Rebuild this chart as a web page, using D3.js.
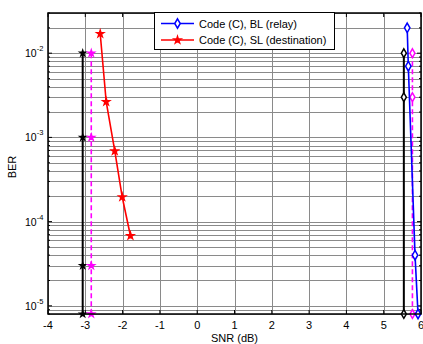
<!DOCTYPE html>
<html>
<head>
<meta charset="utf-8">
<script src="https://cdn.jsdelivr.net/npm/d3@7"></script>
<style>
  body { margin: 0; background: #fff; }
  svg { display: block; font-family: "Liberation Sans", Arial, sans-serif; }
</style>
</head>
<body>
<svg width="423" height="344"></svg>
<script>
// series
var blSnr = [5.63, 5.66, 5.84, 5.92];
var blBer = [2e-2, 7e-3, 4e-5, 8e-6];
var slSnr = [-2.6, -2.44, -2.21, -2.01, -1.79];
var slBer = [1.7e-2, 2.65e-3, 6.9e-4, 1.96e-4, 6.8e-5];
var blackLeftSnr = [-3.07, -3.07, -3.07, -3.07];
var blackLeftBer = [1e-2, 1e-3, 3e-5, 8e-6];
var magLeftSnr = [-2.84, -2.84, -2.84, -2.84];
var magLeftBer = [1e-2, 1e-3, 3e-5, 8e-6];
var blackRightSnr = [5.54, 5.54, 5.54];
var blackRightBer = [1e-2, 3e-3, 8e-6];
var magRightSnr = [5.77, 5.77, 5.77];
var magRightBer = [1e-2, 3e-3, 8e-6];

var xTicks = [-4, -3, -2, -1, 0, 1, 2, 3, 4, 5, 6];
var yDecades = [-5, -4, -3, -2];
var legendLabels = ["Code (C), BL (relay)", "Code (C), SL (destination)"];

var svg = d3.select("svg");
var pL = 48, pR = 421, pT = 13, pB = 314;

var x = d3.scaleLinear().domain([-4, 6]).range([pL, pR]);
var y = d3.scaleLog().domain([8e-6, 3e-2]).range([pB, pT]);

// minor log grid values
var minorVals = [];
[-6, -5, -4, -3, -2].forEach(function(e) {
    for (var m = 1; m <= 9; m++) {
        var v = m * Math.pow(10, e);
        if (v >= 8e-6 && v <= 3e-2) minorVals.push(v);
    }
});

var grid = svg.append("g");
grid.selectAll("line.h")
    .data(minorVals)
    .enter()
    .append("line")
    .attr("x1", pL).attr("x2", pR)
    .attr("y1", function(d) { return Math.round(y(d)) + 0.5; })
    .attr("y2", function(d) { return Math.round(y(d)) + 0.5; })
    .attr("stroke", "#8a8a8a")
    .attr("stroke-width", 1);

grid.selectAll("line.v")
    .data(xTicks)
    .enter()
    .append("line")
    .attr("x1", function(d) { return Math.round(x(d)) + 0.5; })
    .attr("x2", function(d) { return Math.round(x(d)) + 0.5; })
    .attr("y1", pT).attr("y2", pB)
    .attr("stroke", "#8a8a8a")
    .attr("stroke-width", 1);

// small inward ticks on all four sides
var ticks = svg.append("g").attr("stroke", "#000");
xTicks.forEach(function(d) {
    ticks.append("line").attr("x1", x(d)).attr("x2", x(d)).attr("y1", pB).attr("y2", pB - 4);
    ticks.append("line").attr("x1", x(d)).attr("x2", x(d)).attr("y1", pT).attr("y2", pT + 4);
});
minorVals.forEach(function(d) {
    var len = Math.abs(Math.log10(d) - Math.round(Math.log10(d))) < 1e-9 ? 4 : 2;
    ticks.append("line").attr("x1", pL).attr("x2", pL + len).attr("y1", y(d)).attr("y2", y(d));
    ticks.append("line").attr("x1", pR).attr("x2", pR - len).attr("y1", y(d)).attr("y2", y(d));
});

var line = d3.line()
    .x(function(d) { return x(d[0]); })
    .y(function(d) { return y(d[1]); });

var plot = svg.append("g");

function drawSeries(xs, ys, color, width, dash, symbol, size, fill) {
    var pts = d3.zip(xs, ys);
    plot.append("path")
        .datum(pts)
        .attr("d", line)
        .attr("fill", "none")
        .attr("stroke", color)
        .attr("stroke-width", width)
        .attr("stroke-dasharray", dash);
    plot.selectAll(null)
        .data(pts)
        .enter()
        .append("path")
        .attr("transform", function(d) { return "translate(" + x(d[0]) + "," + y(d[1]) + ")"; })
        .attr("d", d3.symbol().type(symbol).size(size))
        .attr("fill", fill)
        .attr("stroke", color)
        .attr("stroke-width", 1.5);
}

drawSeries(blackLeftSnr, blackLeftBer, "#000", 2, null, d3.symbolStar, 9, "#000");
drawSeries(magLeftSnr, magLeftBer, "#ff00ff", 1.6, "5,3", d3.symbolStar, 12, "#ff00ff");
drawSeries(blackRightSnr, blackRightBer, "#000", 2, null, d3.symbolDiamond, 22, "#fff");
drawSeries(magRightSnr, magRightBer, "#ff00ff", 1.6, "5,3", d3.symbolDiamond, 22, "#fff");
drawSeries(slSnr, slBer, "#ff0000", 1.6, null, d3.symbolStar, 14, "#ff0000");
drawSeries(blSnr, blBer, "#0000ff", 1.6, null, d3.symbolDiamond, 26, "#fff");

// frame
svg.append("rect")
    .attr("x", pL).attr("y", pT)
    .attr("width", pR - pL).attr("height", pB - pT)
    .attr("fill", "none")
    .attr("stroke", "#000")
    .attr("stroke-width", 1.5);

// x tick labels
svg.selectAll("text.xt")
    .data(xTicks)
    .enter()
    .append("text")
    .attr("x", function(d) { return x(d); })
    .attr("y", 329)
    .attr("text-anchor", "middle")
    .attr("font-size", "11px")
    .text(function(d) { return d; });

// y tick labels 10^e
var yl = svg.selectAll("text.yt")
    .data(yDecades)
    .enter()
    .append("text")
    .attr("x", 25)
    .attr("y", function(d) { return y(Math.pow(10, d)) + 4; })
    .attr("font-size", "10.5px");
yl.append("tspan").text("10");
yl.append("tspan")
    .attr("dy", -6)
    .attr("font-size", "7.5px")
    .text(function(d) { return d; });

// axis titles
svg.append("text")
    .attr("x", (pL + pR) / 2)
    .attr("y", 342)
    .attr("text-anchor", "middle")
    .attr("font-size", "11px")
    .text("SNR (dB)");

svg.append("text")
    .attr("transform", "translate(16,167) rotate(-90)")
    .attr("text-anchor", "middle")
    .attr("font-size", "11px")
    .text("BER");

// legend
var lg = svg.append("g");
lg.append("rect")
    .attr("x", 154.5).attr("y", 12.5)
    .attr("width", 180).attr("height", 37)
    .attr("fill", "#fff")
    .attr("stroke", "#000")
    .attr("stroke-width", 1);

var legendColors = ["#0000ff", "#ff0000"];
var legendSymbols = [d3.symbolDiamond, d3.symbolStar];
var legendFills = ["#fff", "#ff0000"];
legendLabels.forEach(function(t, i) {
    var ly = 23.5 + i * 16.5;
    lg.append("line")
        .attr("x1", 161).attr("x2", 194)
        .attr("y1", ly).attr("y2", ly)
        .attr("stroke", legendColors[i])
        .attr("stroke-width", 1.6);
    lg.append("path")
        .attr("transform", "translate(177.5," + ly + ")")
        .attr("d", d3.symbol().type(legendSymbols[i]).size(i === 0 ? 26 : 14))
        .attr("fill", legendFills[i])
        .attr("stroke", legendColors[i])
        .attr("stroke-width", 1.5);
    lg.append("text")
        .attr("x", 199)
        .attr("y", ly + 4)
        .attr("font-size", "11px")
        .text(t);
});
</script>
</body>
</html>
